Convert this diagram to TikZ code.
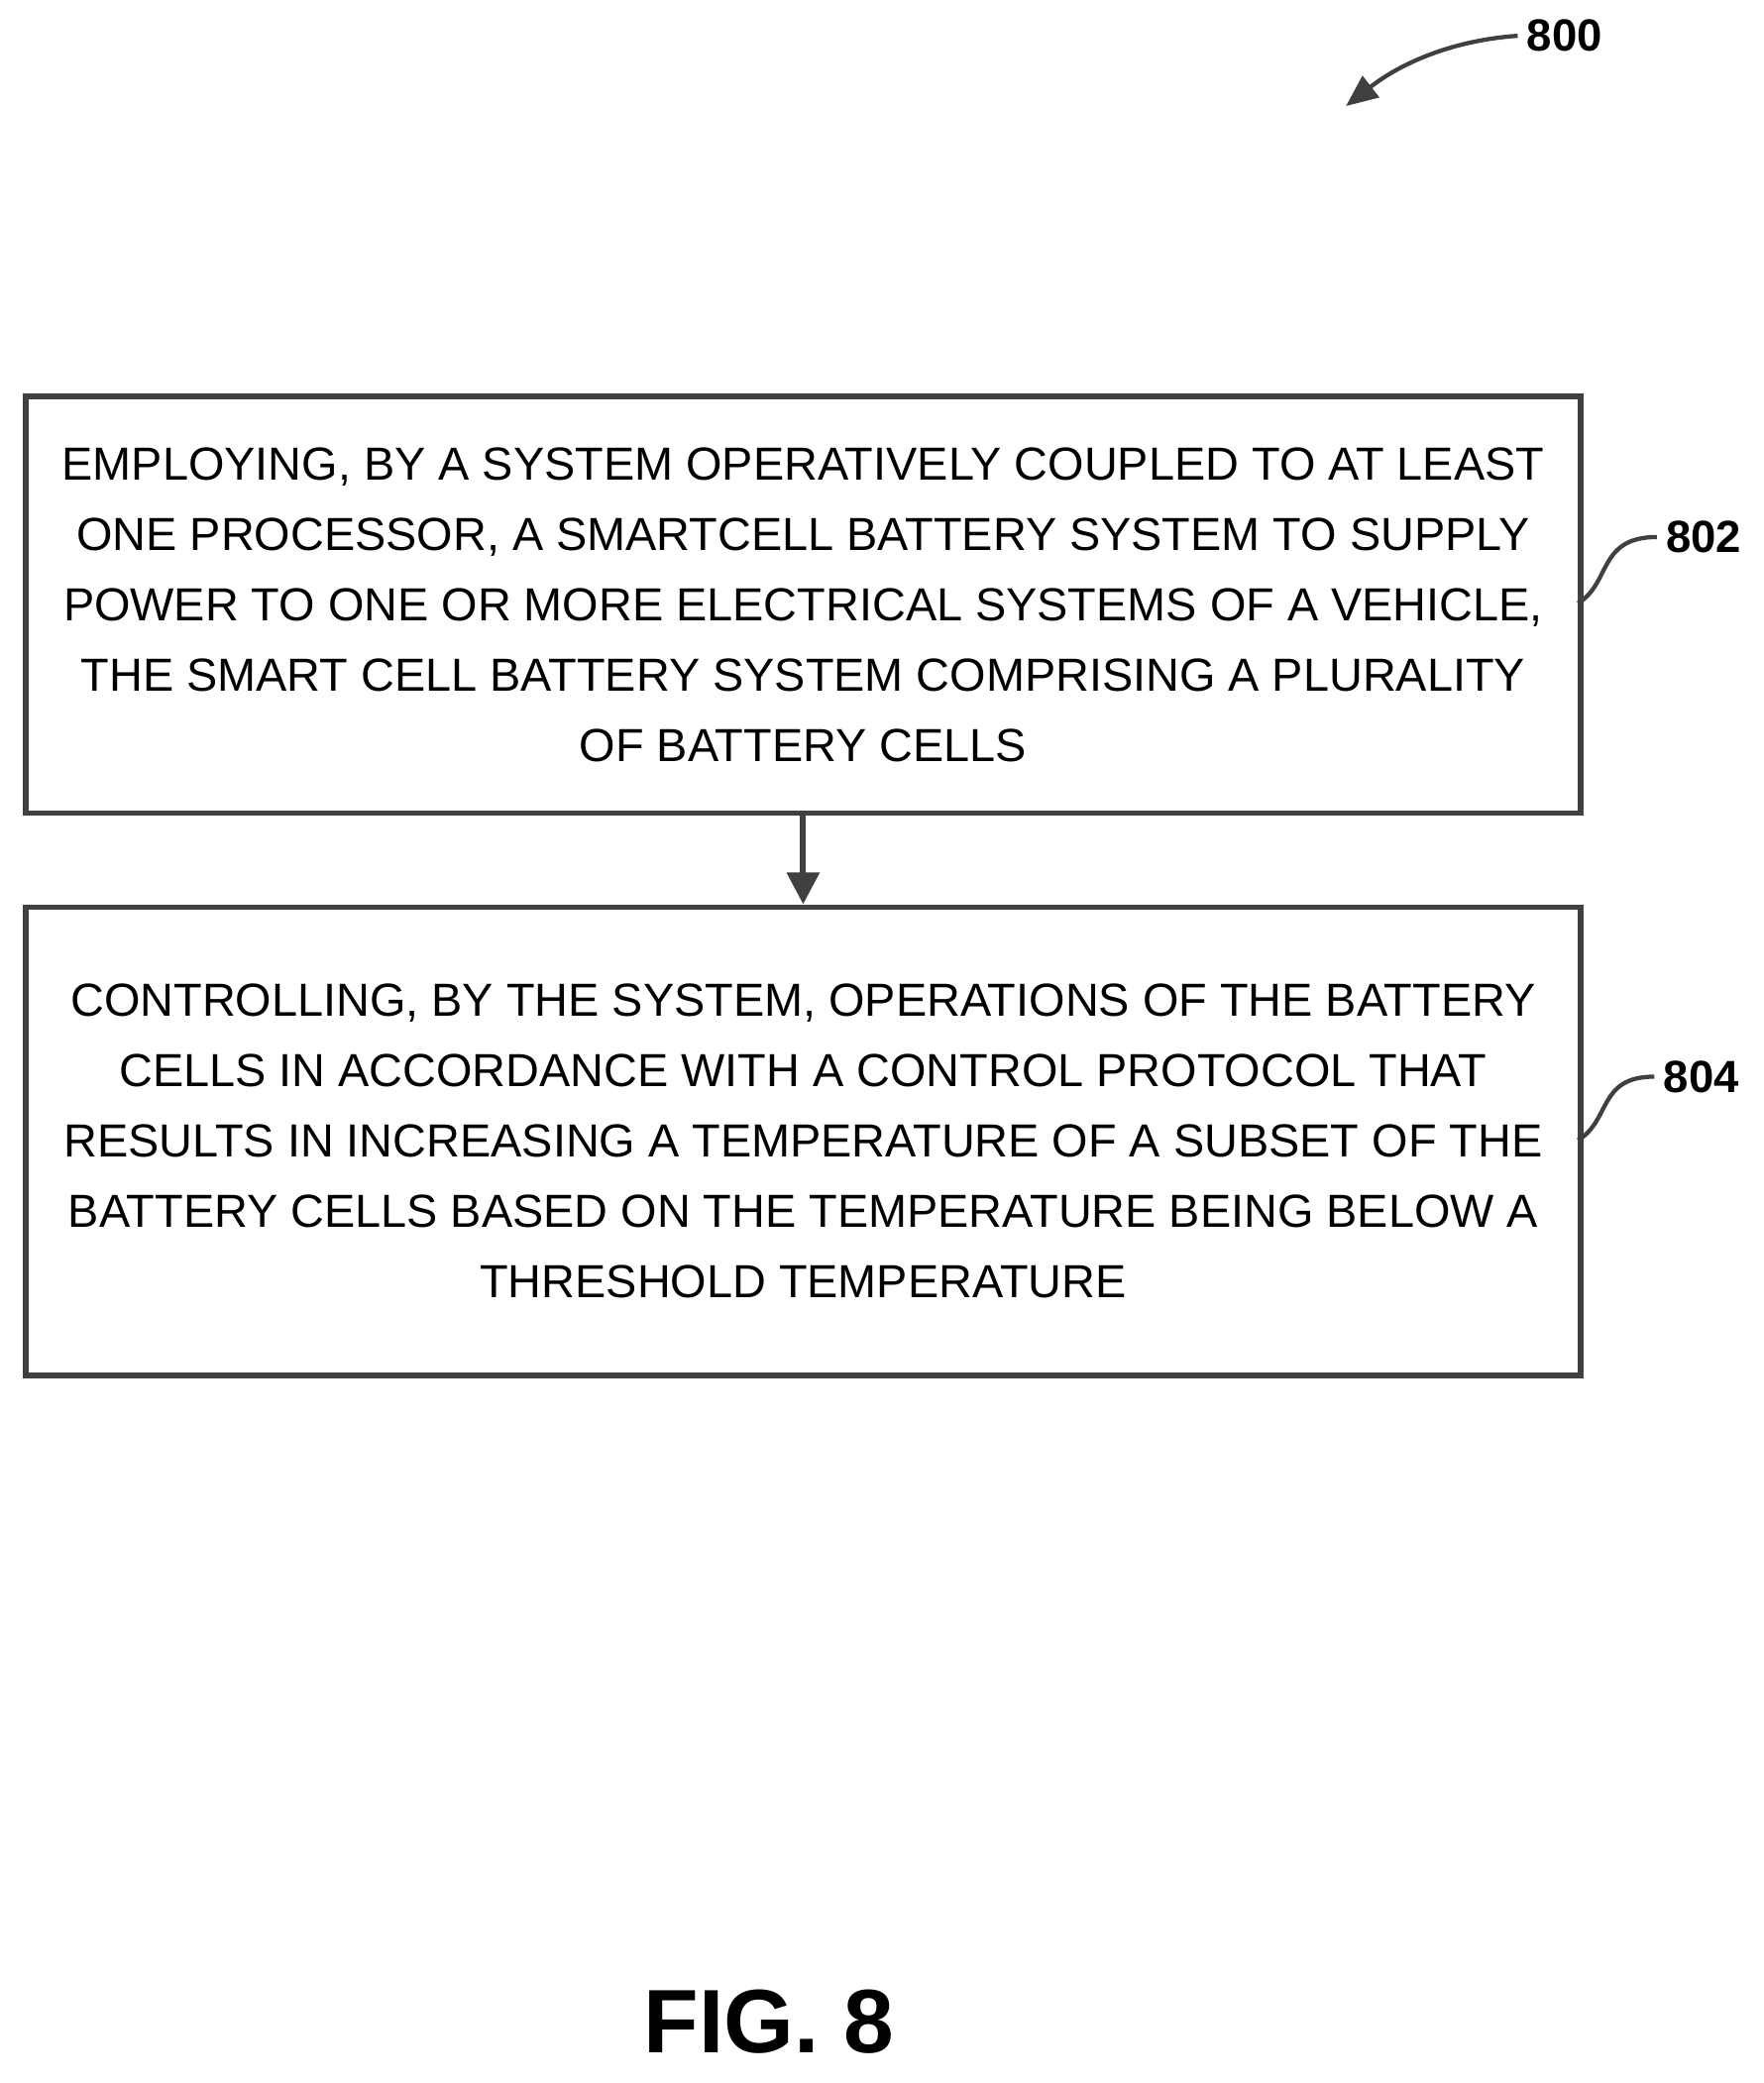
\documentclass[tikz,border=0pt]{standalone}
\usepackage{fontspec}
\setmainfont{Liberation Sans}
\usetikzlibrary{arrows.meta,decorations.pathmorphing}
\begin{document}
\begin{tikzpicture}[x=0.5pt,y=-0.5pt,
  stepbox/.style={draw=black!75,line width=2.2pt,inner sep=0pt,anchor=north west,align=center,font=\fontsize{17.5}{26.5}\selectfont},
  lbl/.style={font=\bfseries\fontsize{17}{20}\selectfont},
  squig/.style={draw=black!75,line width=1.6pt}]
\useasboundingbox (0,0) rectangle (1330,1571);
\node[stepbox,minimum width=586.5pt,minimum height=157pt] (b1) at (17,297) {EMPLOYING, BY A SYSTEM OPERATIVELY COUPLED TO AT LEAST\\ONE PROCESSOR, A SMARTCELL BATTERY SYSTEM TO SUPPLY\\POWER TO ONE OR MORE ELECTRICAL SYSTEMS OF A VEHICLE,\\THE SMART CELL BATTERY SYSTEM COMPRISING A PLURALITY\\OF BATTERY CELLS};
\node[stepbox,minimum width=586.5pt,minimum height=176.5pt] (b2) at (17,682) {CONTROLLING, BY THE SYSTEM, OPERATIONS OF THE BATTERY\\CELLS IN ACCORDANCE WITH A CONTROL PROTOCOL THAT\\RESULTS IN INCREASING A TEMPERATURE OF A SUBSET OF THE\\BATTERY CELLS BASED ON THE TEMPERATURE BEING BELOW A\\THRESHOLD TEMPERATURE};
\draw[line width=2.2pt,draw=black!75,-{Triangle[length=12pt,width=12pt]}] (b1.south) -- (b2.north);
\node[lbl] (l802) at (1285,405) {802};
\node[lbl] (l804) at (1283,812) {804};
\node[lbl] (l800) at (1180,27) {800};
\coordinate (e1) at (1190,455);
\coordinate (e2) at (1190,860);
\draw[squig] (e1) .. controls (1215,440) and (1205,405) .. (l802.west);
\draw[squig] (e2) .. controls (1215,845) and (1205,812) .. (l804.west);
\draw[squig,-{Triangle[length=12pt,width=10pt]}] (l800.west) .. controls (1100,30) and (1060,45) .. (1015,80);
\node[font=\bfseries\fontsize{34}{40}\selectfont] (fig) at (580,1525) {FIG. 8};
\end{tikzpicture}
\end{document}
